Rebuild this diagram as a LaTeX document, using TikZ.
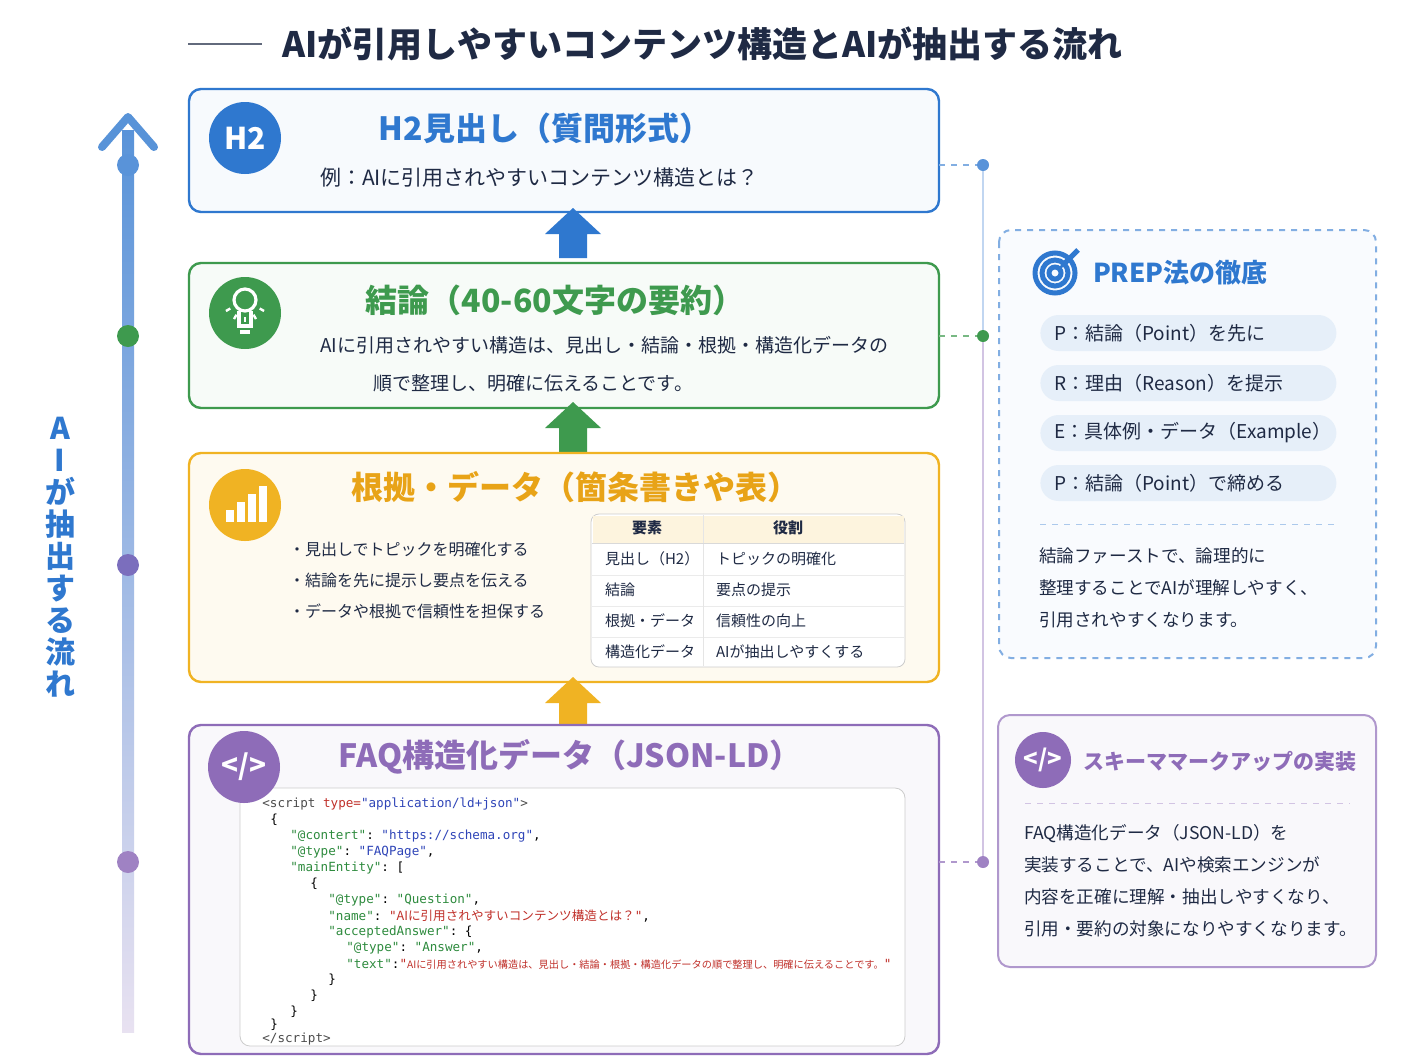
\documentclass[tikz,border=0pt]{standalone}
\usepackage{fontspec}
\setmainfont{Noto Sans CJK JP}
\setmonofont{DejaVu Sans Mono}
\newfontfamily\jpf{Noto Sans CJK JP}
\usetikzlibrary{positioning, calc, arrows.meta}
\definecolor{cblue}{HTML}{2F78CF}
\definecolor{cgreen}{HTML}{3E9A4E}
\definecolor{corange}{HTML}{F0B323}
\definecolor{ctitle}{HTML}{E8A317}
\definecolor{cpurple}{HTML}{8E6CB8}
\definecolor{cnavy}{HTML}{1F2A44}
\definecolor{ckey}{HTML}{2E8B3E}
\definecolor{cval}{HTML}{2F45B8}
\definecolor{cstr}{HTML}{C0302A}
\tikzset{
  box/.style={draw=#1, line width=1.2pt, rounded corners=6pt},
  icon/.style={circle, fill=#1, minimum size=36pt, inner sep=0pt, text=white},
  head/.style={font=\fontsize{16}{18}\selectfont\bfseries, anchor=center},
  body/.style={font=\fontsize{9.5}{11}\selectfont, text=cnavy, anchor=west},
  small/.style={font=\fontsize{8}{10}\selectfont, text=cnavy, anchor=west},
  code/.style={font=\ttfamily\fontsize{6.3}{7}\selectfont, anchor=west, inner sep=0pt},
  pill/.style={fill=cblue!12, rounded corners=9pt, minimum height=18pt, text width=134pt, inner xsep=7pt, inner ysep=0pt, align=left},
  dot/.style={circle, fill=#1, minimum size=11pt, inner sep=0pt},
  link/.style={draw=cblue!60, dashed, line width=0.8pt},
}
\newcommand{\upar}[3]{% x, y top, color
  \fill[#3] (#1-14,#2+26) -- (#1-28,#2+26) -- (#1,#2) -- (#1+28,#2+26) -- (#1+14,#2+26) -- (#1+14,#2+50) -- (#1-14,#2+50) -- cycle;}
\begin{document}
\begin{tikzpicture}[x=0.5pt, y=-0.5pt]
  \useasboundingbox (0,0) rectangle (1408,1056);
  \fill[white] (0,0) rectangle (1408,1056);

  % title
  \draw[cnavy!70, line width=1pt] (188,44) -- (262,44);
  \node[anchor=west, font=\fontsize{17.5}{19}\selectfont\bfseries, text=cnavy] (title) at (275,44) {AIが引用しやすいコンテンツ構造とAIが抽出する流れ};

  % left axis
  \shade[top color=cblue!80, bottom color=cpurple!20] (122,130) rectangle (134,1032);
  \draw[cblue!80, line width=4pt, line cap=round, line join=round] (102,147) -- (128,117) -- (154,147);
  \node[dot=cblue!80] (d1) at (128,165) {};
  \node[dot=cgreen] (d2) at (128,336) {};
  \node[dot=cpurple!80!cblue] (d3) at (128,565) {};
  \node[dot=cpurple!85] (d4) at (128,862) {};
  \node[font=\fontsize{15}{17}\selectfont\bfseries, text=cblue, align=center, text width=20pt, anchor=north] (axis) at (60,410)
    {A\\[-1pt]I\\[-1pt]が\\[-1pt]抽\\[-1pt]出\\[-1pt]す\\[-1pt]る\\[-1pt]流\\[-1pt]れ};

  % box 1
  \draw[box=cblue, fill=cblue!4] (189,89) rectangle (939,212);
  \node[icon=cblue, font=\fontsize{15}{17}\selectfont\bfseries] (i1) at (245,138) {H2};
  \node[head, text=cblue] (h1) at (545,128) {H2見出し（質問形式）};
  \node[body, font=\fontsize{10.5}{12}\selectfont] (t1) at (313,178) {例：AIに引用されやすいコンテンツ構造とは？};
  \upar{573}{208}{cblue}

  % box 2
  \draw[box=cgreen, fill=cgreen!4] (189,263) rectangle (939,408);
  \node[icon=cgreen] (i2) at (245,313) {};
  \draw[white, line width=1.6pt] (245,300) circle (11);
  \draw[white, line width=1.6pt] (239,311) -- (239,326) -- (251,326) -- (251,311);
  \draw[white, line width=1.6pt] (240,332) -- (250,332);
  \foreach \a in {30,60,90,120,150} \draw[white, line width=1.2pt] ($(245,300)+(\a:17)$) -- ($(245,300)+(\a:22)$);
  \node[head, text=cgreen] (h2) at (555,300) {結論（40-60文字の要約）};
  \node[body] (t2a) at (313,345) {AIに引用されやすい構造は、見出し・結論・根拠・構造化データの};
  \node[body] (t2b) at (366,383) {順で整理し、明確に伝えることです。};
  \upar{573}{402}{cgreen}

  % box 3
  \draw[box=corange, fill=corange!7] (189,453) rectangle (939,682);
  \node[icon=corange] (i3) at (245,505) {};
  \foreach \i/\h in {0/12,1/20,2/28,3/36} \fill[white] (226+\i*11,522-\h) rectangle (234+\i*11,522);
  \node[head, text=ctitle] (h3) at (575,487) {根拠・データ（箇条書きや表）};
  \foreach \y/\t in {549/見出しでトピックを明確化する, 580/結論を先に提示し要点を伝える, 611/データや根拠で信頼性を担保する}
    \node[small] at (282,\y) {・\t};
  \draw[fill=white, draw=black!20, rounded corners=4pt] (591,514) rectangle (905,667);
  \fill[corange!15] ([xshift=1,yshift=-1]591,514) rectangle (904,543);
  \foreach \y in {575,606,637} \draw[black!8] (592,\y) -- (904,\y);
  \draw[black!10] (703,515) -- (703,666);
  \draw[black!15] (592,543) -- (904,543);
  \node[font=\fontsize{7.5}{9}\selectfont\bfseries, text=cnavy] (th1) at (647,528) {要素};
  \node[font=\fontsize{7.5}{9}\selectfont\bfseries, text=cnavy] (th2) at (788,528) {役割};
  \foreach \y/\a/\b in {559/見出し（H2）/トピックの明確化, 590/結論/要点の提示, 621/根拠・データ/信頼性の向上, 652/構造化データ/AIが抽出しやすくする}{
    \node[font=\fontsize{7.5}{9}\selectfont, text=cnavy, anchor=west] at (598,\y) {\a};
    \node[font=\fontsize{7.5}{9}\selectfont, text=cnavy, anchor=west] at (709,\y) {\b};
  }
  \upar{573}{677}{corange}

  % box 4
  \draw[box=cpurple, fill=cpurple!5] (189,725) rectangle (939,1054);
  \draw[fill=white, draw=black!20, rounded corners=5pt] (240,788) rectangle (905,1046);
  \node[icon=cpurple, font=\fontsize{14}{16}\selectfont\bfseries] (i4) at (244,767) {</>};
  \node[head, text=cpurple] (h4) at (570,757) {FAQ構造化データ（JSON-LD）};
  \node[code] at (262,804) {\textcolor{black!70}{<script }\textcolor{cstr}{type=}\textcolor{cval}{"application/ld+json"}\textcolor{black!70}{>}};
  \node[code] at (270,820) {\{};
  \node[code] at (290,836) {\textcolor{ckey}{"@contert"}: \textcolor{cval}{"https://schema.org"},};
  \node[code] at (290,852) {\textcolor{ckey}{"@type"}: \textcolor{cval}{"FAQPage"},};
  \node[code] at (290,868) {\textcolor{ckey}{"mainEntity"}: [};
  \node[code] at (310,884) {\{};
  \node[code] at (328,900) {\textcolor{ckey}{"@type"}: \textcolor{ckey}{"Question"},};
  \node[code] at (328,916) {\textcolor{ckey}{"name"}: \textcolor{cstr}{"{\jpf AIに引用されやすいコンテンツ構造とは？}"},};
  \node[code] at (328,932) {\textcolor{ckey}{"acceptedAnswer"}: \{};
  \node[code] at (346,948) {\textcolor{ckey}{"@type"}: \textcolor{ckey}{"Answer"},};
  \node[code] at (346,964) {\textcolor{ckey}{"text"}:\textcolor{cstr}{"{\jpf\fontsize{5.1}{7}\selectfont AIに引用されやすい構造は、見出し・結論・根拠・構造化データの順で整理し、明確に伝えることです。}"}};
  \node[code] at (328,980) {\}};
  \node[code] at (310,996) {\}};
  \node[code] at (290,1012) {\}};
  \node[code] at (270,1025) {\}};
  \node[code] at (262,1039) {\textcolor{black!70}{</script>}};

  % right connectors
  \node[dot=cblue!80, minimum size=6pt] (r1) at (983,165) {};
  \node[dot=cgreen, minimum size=6pt] (r2) at (983,336) {};
  \node[dot=cpurple!85, minimum size=6pt] (r3) at (983,862) {};
  \coordinate (e1) at (939,165);
  \coordinate (e2) at (939,336);
  \coordinate (e3) at (939,862);
  \draw[link] (e1) -- (r1);
  \draw[link, draw=cgreen!70] (e2) -- (r2);
  \draw[link, draw=cpurple!70] (e3) -- (r3);
  \draw[cblue!30, line width=0.8pt] (r1) -- (r2);
  \draw[cpurple!40, line width=0.8pt] (r2) -- (r3);

  % PREP box
  \draw[draw=cblue!60, dashed, line width=1pt, fill=cblue!3, rounded corners=6pt] (999,230) rectangle (1376,658);
  \foreach \r in {20,13,6} \draw[cblue, line width=2.5pt] (1055,273) circle (\r);
  \draw[cblue, line width=2.5pt, -{Latex[length=5pt]}] (1078,250) -- (1058,270);
  \node[anchor=west, font=\fontsize{13}{15}\selectfont\bfseries, text=cblue] (ph) at (1086,273) {PREP法の徹底};
  \foreach \y/\t in {333/P：結論（Point）を先に, 383/R：理由（Reason）を提示, 433/E：具体例・データ（Example）, 483/P：結論（Point）で締める}
    \node[pill, anchor=west, font=\fontsize{9.5}{11}\selectfont, text=cnavy] at (1040,\y) {\t};
  \draw[cblue!40, dashed] (1040,524) -- (1336,524);
  \foreach \y/\t in {556/結論ファーストで、論理的に, 588/整理することでAIが理解しやすく、, 620/引用されやすくなります。}
    \node[small, font=\fontsize{8.8}{10}\selectfont] at (1032,\y) {\t};

  % schema box
  \draw[draw=cpurple!70, line width=1pt, fill=cpurple!5, rounded corners=6pt] (998,715) rectangle (1376,967);
  \node[icon=cpurple, minimum size=28pt, font=\fontsize{12}{14}\selectfont\bfseries] (i5) at (1043,760) {</>};
  \node[anchor=west, font=\fontsize{10.5}{12}\selectfont\bfseries, text=cpurple] (sh) at (1076,761) {スキーママークアップの実装};
  \draw[cpurple!40, dashed] (1025,803) -- (1350,803);
  \foreach \y/\t in {834/FAQ構造化データ（JSON-LD）を, 865/実装することで、AIや検索エンジンが, 897/内容を正確に理解・抽出しやすくなり、, 929/引用・要約の対象になりやすくなります。}
    \node[small, font=\fontsize{8.8}{10}\selectfont] at (1017,\y) {\t};
\end{tikzpicture}
\end{document}
